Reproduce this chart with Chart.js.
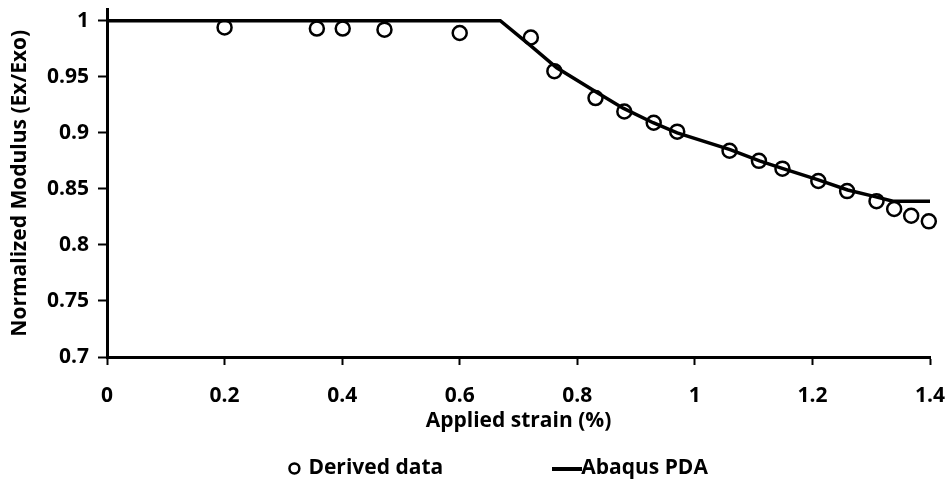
<!DOCTYPE html>
<html>
<head>
<meta charset="utf-8">
<title>Normalized modulus vs applied strain</title>
<script src="https://cdn.jsdelivr.net/npm/chart.js@4.4.1/dist/chart.umd.min.js"></script>
<style>
    html, body { margin: 0; padding: 0; background: #fff; }
</style>
</head>
<body>
<canvas id="chart" width="947" height="479"></canvas>
<script>
// Derived data (open circles)
const derivedStrain  = [0.2, 0.357, 0.401, 0.472, 0.6, 0.721, 0.761, 0.831, 0.88, 0.93,
                        0.97, 1.059, 1.109, 1.149, 1.21, 1.259, 1.309, 1.339, 1.368, 1.398];
const derivedModulus = [0.994, 0.993, 0.993, 0.992, 0.989, 0.985, 0.955, 0.931, 0.919, 0.909,
                        0.901, 0.884, 0.875, 0.868, 0.857, 0.848, 0.839, 0.832, 0.826, 0.821];

// Abaqus PDA curve (solid line)
const abaqusStrain  = [0, 0.669, 0.72, 0.765, 0.83, 0.878, 0.929, 0.97, 1.06, 1.11,
                       1.15, 1.21, 1.26, 1.303, 1.337, 1.4];
const abaqusModulus = [1, 1, 0.978, 0.958, 0.937, 0.922, 0.909, 0.9, 0.885, 0.875,
                       0.868, 0.858, 0.849, 0.8435, 0.839, 0.839];

// Axis ticks
const xTicks = [0, 0.2, 0.4, 0.6, 0.8, 1, 1.2, 1.4];
const yTicks = [0.7, 0.75, 0.8, 0.85, 0.9, 0.95, 1];

const seriesNames = ['Derived data', 'Abaqus PDA'];

const FAMILY = "'Open Sans', sans-serif";
const SIZE = 21;
Chart.defaults.font.family = FAMILY;
Chart.defaults.font.weight = 700;
Chart.defaults.font.size = SIZE;
Chart.defaults.color = '#000';

function toPoints(xs, ys) {
    return xs.map((x, i) => ({ x: x, y: ys[i] }));
}

// Short thick dash used as the legend marker of the line series
const dash = document.createElement('canvas');
dash.width = 30;
dash.height = 4;
const dctx = dash.getContext('2d');
dctx.fillStyle = '#000';
dctx.fillRect(0, 0, dash.width, dash.height);

// Pad legend texts with spaces so the two entries sit apart like in Excel
const measure = document.createElement('canvas').getContext('2d');
measure.font = '700 ' + SIZE + 'px ' + FAMILY;
function padTo(text, width) {
    let t = text;
    while (measure.measureText(t + ' ').width <= width) t += ' ';
    return t;
}

const bold = { size: SIZE, weight: 700, family: FAMILY };

new Chart(document.getElementById('chart'), {
    type: 'scatter',
    data: {
        datasets: [
            {
                label: seriesNames[0],
                data: toPoints(derivedStrain, derivedModulus),
                pointStyle: 'circle',
                pointRadius: 7,
                pointBorderWidth: 2.5,
                borderWidth: 2.5,
                borderColor: '#000',
                backgroundColor: 'rgba(0,0,0,0)',
                clip: false
            },
            {
                label: seriesNames[1],
                data: toPoints(abaqusStrain, abaqusModulus),
                showLine: true,
                tension: 0,
                borderColor: '#000',
                backgroundColor: '#000',
                borderWidth: 3.5,
                pointRadius: 0,
                pointHoverRadius: 0,
                clip: false
            }
        ]
    },
    options: {
        responsive: false,
        animation: false,
        events: [],
        layout: {
            padding: { top: 8, right: 17, bottom: -10, left: 0 }
        },
        plugins: {
            tooltip: { enabled: false },
            legend: {
                position: 'bottom',
                fullSize: false,
                labels: {
                    usePointStyle: true,
                    boxWidth: 7,
                    boxHeight: 7,
                    padding: 6,
                    font: bold,
                    generateLabels: function(chart) {
                        const items = Chart.defaults.plugins.legend.labels.generateLabels(chart);
                        items[0].text = padTo(seriesNames[0], 253);
                        items[0].lineWidth = 2.5;
                        items[1].text = padTo(seriesNames[1], 170);
                        items[1].pointStyle = dash;
                        return items;
                    }
                }
            }
        },
        scales: {
            x: {
                type: 'linear',
                min: 0,
                max: 1.4,
                afterBuildTicks: s => { s.ticks = xTicks.map(v => ({ value: v })); },
                afterFit: s => { s.height = 95; s.paddingLeft = 0; s.paddingRight = 0; },
                ticks: {
                    padding: 18,
                    font: bold,
                    callback: v => String(v)
                },
                grid: {
                    display: true,
                    drawOnChartArea: false,
                    drawTicks: true,
                    tickLength: 8,
                    tickWidth: 2,
                    tickColor: '#000'
                },
                border: { display: true, color: '#000', width: 3 },
                title: {
                    display: true,
                    text: 'Applied strain (%)',
                    font: bold,
                    padding: { top: 0, bottom: 18 }
                }
            },
            y: {
                type: 'linear',
                min: 0.7,
                max: 1.01,
                afterBuildTicks: s => { s.ticks = yTicks.map(v => ({ value: v })); },
                afterFit: s => { s.width = 107; s.paddingTop = 0; s.paddingBottom = 0; },
                ticks: {
                    padding: 9,
                    font: bold,
                    callback: v => String(v)
                },
                grid: {
                    display: true,
                    drawOnChartArea: false,
                    drawTicks: true,
                    tickLength: 9,
                    tickWidth: 2,
                    tickColor: '#000'
                },
                border: { display: true, color: '#000', width: 3 },
                title: {
                    display: true,
                    text: 'Normalized Modulus (Ex/Exo)',
                    font: bold,
                    padding: { top: 7, bottom: 0 }
                }
            }
        }
    }
});
</script>
</body>
</html>
